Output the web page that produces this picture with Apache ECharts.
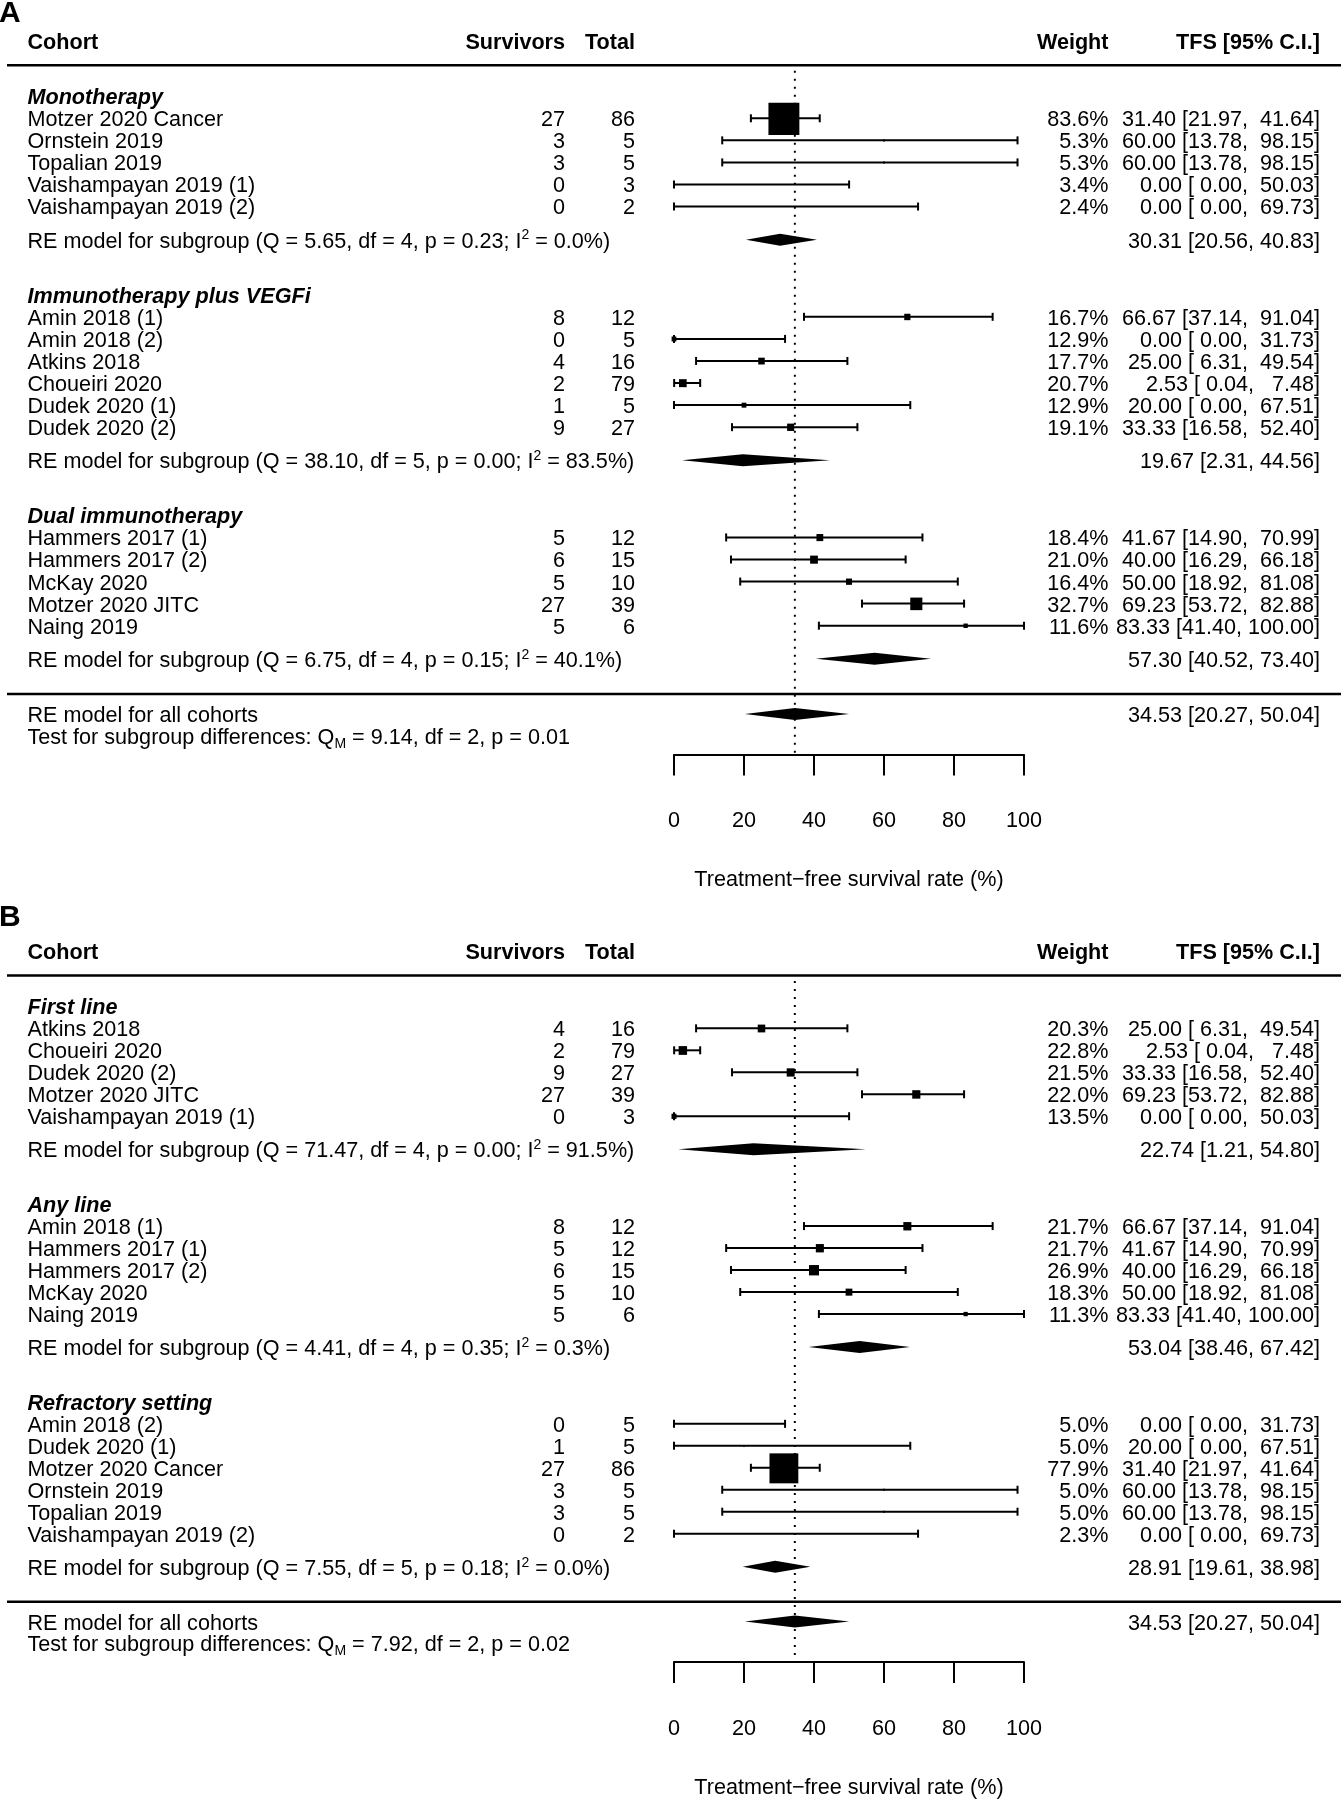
<!DOCTYPE html>
<html><head><meta charset="utf-8">
<script src="https://cdn.jsdelivr.net/npm/echarts@6/dist/echarts.min.js"></script>
<style>html,body{margin:0;padding:0;background:#fff}#main{width:1341px;height:1800px}</style>
</head><body><div id="main"></div>
<script>
// ---------------- Panel A data ----------------
const groupsA = ['Monotherapy', 'Immunotherapy plus VEGFi', 'Dual immunotherapy'];
const groupSizesA = [5, 6, 5];
const cohortsA = ['Motzer 2020 Cancer', 'Ornstein 2019', 'Topalian 2019', 'Vaishampayan 2019 (1)', 'Vaishampayan 2019 (2)',
  'Amin 2018 (1)', 'Amin 2018 (2)', 'Atkins 2018', 'Choueiri 2020', 'Dudek 2020 (1)', 'Dudek 2020 (2)',
  'Hammers 2017 (1)', 'Hammers 2017 (2)', 'McKay 2020', 'Motzer 2020 JITC', 'Naing 2019'];
const survivorsA = [27, 3, 3, 0, 0, 8, 0, 4, 2, 1, 9, 5, 6, 5, 27, 5];
const totalsA = [86, 5, 5, 3, 2, 12, 5, 16, 79, 5, 27, 12, 15, 10, 39, 6];
const weightsA = [83.6, 5.3, 5.3, 3.4, 2.4, 16.7, 12.9, 17.7, 20.7, 12.9, 19.1, 18.4, 21.0, 16.4, 32.7, 11.6];
const tfsA = [31.40, 60.00, 60.00, 0.00, 0.00, 66.67, 0.00, 25.00, 2.53, 20.00, 33.33, 41.67, 40.00, 50.00, 69.23, 83.33];
const lowerA = [21.97, 13.78, 13.78, 0.00, 0.00, 37.14, 0.00, 6.31, 0.04, 0.00, 16.58, 14.90, 16.29, 18.92, 53.72, 41.40];
const upperA = [41.64, 98.15, 98.15, 50.03, 69.73, 91.04, 31.73, 49.54, 7.48, 67.51, 52.40, 70.99, 66.18, 81.08, 82.88, 100.00];
const subQA = [5.65, 38.10, 6.75];
const subDfA = [4, 5, 4];
const subPA = [0.23, 0.00, 0.15];
const subI2A = [0.0, 83.5, 40.1];
const subTfsA = [30.31, 19.67, 57.30];
const subLowerA = [20.56, 2.31, 40.52];
const subUpperA = [40.83, 44.56, 73.40];
const overallA = [34.53, 20.27, 50.04];
const testA = [9.14, 2, 0.01];

// ---------------- Panel B data ----------------
const groupsB = ['First line', 'Any line', 'Refractory setting'];
const groupSizesB = [5, 5, 6];
const cohortsB = ['Atkins 2018', 'Choueiri 2020', 'Dudek 2020 (2)', 'Motzer 2020 JITC', 'Vaishampayan 2019 (1)',
  'Amin 2018 (1)', 'Hammers 2017 (1)', 'Hammers 2017 (2)', 'McKay 2020', 'Naing 2019',
  'Amin 2018 (2)', 'Dudek 2020 (1)', 'Motzer 2020 Cancer', 'Ornstein 2019', 'Topalian 2019', 'Vaishampayan 2019 (2)'];
const survivorsB = [4, 2, 9, 27, 0, 8, 5, 6, 5, 5, 0, 1, 27, 3, 3, 0];
const totalsB = [16, 79, 27, 39, 3, 12, 12, 15, 10, 6, 5, 5, 86, 5, 5, 2];
const weightsB = [20.3, 22.8, 21.5, 22.0, 13.5, 21.7, 21.7, 26.9, 18.3, 11.3, 5.0, 5.0, 77.9, 5.0, 5.0, 2.3];
const tfsB = [25.00, 2.53, 33.33, 69.23, 0.00, 66.67, 41.67, 40.00, 50.00, 83.33, 0.00, 20.00, 31.40, 60.00, 60.00, 0.00];
const lowerB = [6.31, 0.04, 16.58, 53.72, 0.00, 37.14, 14.90, 16.29, 18.92, 41.40, 0.00, 0.00, 21.97, 13.78, 13.78, 0.00];
const upperB = [49.54, 7.48, 52.40, 82.88, 50.03, 91.04, 70.99, 66.18, 81.08, 100.00, 31.73, 67.51, 41.64, 98.15, 98.15, 69.73];
const subQB = [71.47, 4.41, 7.55];
const subDfB = [4, 4, 5];
const subPB = [0.00, 0.35, 0.18];
const subI2B = [91.5, 0.3, 0.0];
const subTfsB = [22.74, 53.04, 28.91];
const subLowerB = [1.21, 38.46, 19.61];
const subUpperB = [54.80, 67.42, 38.98];
const overallB = [34.53, 20.27, 50.04];
const testB = [7.92, 2, 0.02];

// ---------------- shared labels ----------------
const headers = ['Cohort', 'Survivors', 'Total', 'Weight', 'TFS [95% C.I.]'];
const xTicks = [0, 20, 40, 60, 80, 100];
const xTitle = 'Treatment\u2212free survival rate (%)';
const panelLetters = ['A', 'B'];

// ---------------- layout / style ----------------
const FS = 21.6;
const FF = '"Liberation Sans", Arial, Helvetica, sans-serif';
const COL = { cohort: 27.5, surv: 565, total: 635, weight: 1108.5, tfs: 1320 };
const ROW_MIN = -4, ROW_MAX = 28.84, UNIT = 22.06;
const GRID_LEFT = 674, GRID_W = 350;
const ROW0 = [118.3, 1028.7];
const TEXT_DY = 2;
const RICH = {
  sup: { fontSize: 14, fontFamily: FF, fill: '#000', verticalAlign: 'top', lineHeight: 14 },
  sub: { fontSize: 14, fontFamily: FF, fill: '#000', verticalAlign: 'bottom', lineHeight: 14 }
};

function layoutRows(sizes) {
  const studyRows = [], headRows = [], subRows = [];
  let r = -1;
  sizes.forEach(n => {
    headRows.push(r);
    for (let i = 0; i < n; i++) studyRows.push(r + 1 + i);
    const last = r + n;
    subRows.push(last + 1.5);
    r = last + 4;
  });
  return { studyRows, headRows, subRows };
}
function pad(v, w) { let s = v.toFixed(2); while (s.length < w) s = ' ' + s; return s; }
function maxLen(arr) { return Math.max.apply(null, arr.map(v => v.toFixed(2).length)); }

function textRenderer(items) {
  return function (params, api) {
    const it = items[params.dataIndex];
    const y = api.coord([0, it.row])[1];
    return {
      type: 'group',
      children: it.cells.map(c => ({
        type: 'text', silent: true,
        style: {
          legacy: false,
          text: c.text, x: c.x, y: y + TEXT_DY, fill: '#000',
          fontSize: FS, fontFamily: FF,
          fontWeight: c.bold ? 'bold' : 'normal',
          fontStyle: c.italic ? 'italic' : 'normal',
          align: c.align, verticalAlign: 'middle',
          lineHeight: c.rich ? 26 : FS + 2,
          rich: c.rich ? RICH : undefined
        }
      }))
    };
  };
}

function studyRender(params, api) {
  const est = api.value(0), row = api.value(1), lo = api.value(2), hi = api.value(3), w = api.value(4);
  const pE = api.coord([est, row]), pL = api.coord([lo, row]), pH = api.coord([hi, row]);
  const y = pE[1], s = Math.max(1.5, w * 0.37), cap = 4;
  const st = { stroke: '#000', lineWidth: 2 };
  return {
    type: 'group', children: [
      { type: 'line', shape: { x1: pL[0], y1: y, x2: pH[0], y2: y }, style: st },
      { type: 'line', shape: { x1: pL[0], y1: y - cap, x2: pL[0], y2: y + cap }, style: st },
      { type: 'line', shape: { x1: pH[0], y1: y - cap, x2: pH[0], y2: y + cap }, style: st },
      { type: 'rect', shape: { x: pE[0] - s / 2, y: y - s / 2, width: s, height: s * 1.04 }, style: { fill: '#000' } }
    ]
  };
}
function diamondRender(params, api) {
  const est = api.value(0), row = api.value(1), lo = api.value(2), hi = api.value(3);
  const pE = api.coord([est, row]), pL = api.coord([lo, row]), pH = api.coord([hi, row]);
  const y = pE[1], h = 6;
  return { type: 'polygon', shape: { points: [[pL[0], y], [pE[0], y - h], [pH[0], y], [pE[0], y + h]] }, style: { fill: '#000' } };
}
function ruleRender(params, api) {
  const y = api.coord([0, api.value(1)])[1];
  return { type: 'line', shape: { x1: 7, y1: y, x2: api.getWidth(), y2: y }, style: { stroke: '#000', lineWidth: 2.5 } };
}

function buildPanel(P, gi) {
  const L = layoutRows(P.sizes);
  const wE = maxLen(P.tfs), wL = maxLen(P.lower), wH = maxLen(P.upper);
  const items = [];
  items.push({ row: -3.5, cells: [
    { text: headers[0], x: COL.cohort, align: 'left', bold: true },
    { text: headers[1], x: COL.surv, align: 'right', bold: true },
    { text: headers[2], x: COL.total, align: 'right', bold: true },
    { text: headers[3], x: COL.weight, align: 'right', bold: true },
    { text: headers[4], x: COL.tfs, align: 'right', bold: true }
  ] });
  P.groups.forEach((g, k) => items.push({ row: L.headRows[k], cells: [{ text: g, x: COL.cohort, align: 'left', bold: true, italic: true }] }));
  P.cohorts.forEach((c, i) => items.push({ row: L.studyRows[i], cells: [
    { text: c, x: COL.cohort, align: 'left' },
    { text: String(P.surv[i]), x: COL.surv, align: 'right' },
    { text: String(P.total[i]), x: COL.total, align: 'right' },
    { text: P.weights[i].toFixed(1) + '%', x: COL.weight, align: 'right' },
    { text: pad(P.tfs[i], wE) + ' [' + pad(P.lower[i], wL) + ', ' + pad(P.upper[i], wH) + ']', x: COL.tfs, align: 'right' }
  ] }));
  P.groups.forEach((g, k) => items.push({ row: L.subRows[k], cells: [
    { text: 'RE model for subgroup (Q = ' + P.subQ[k].toFixed(2) + ', df = ' + P.subDf[k] + ', p = ' + P.subP[k].toFixed(2) +
        '; I{sup|2} = ' + P.subI2[k].toFixed(1) + '%)', x: COL.cohort, align: 'left', rich: true },
    { text: P.subTfs[k].toFixed(2) + ' [' + P.subLower[k].toFixed(2) + ', ' + P.subUpper[k].toFixed(2) + ']', x: COL.tfs, align: 'right' }
  ] }));
  items.push({ row: 27, cells: [
    { text: 'RE model for all cohorts', x: COL.cohort, align: 'left' },
    { text: P.overall[0].toFixed(2) + ' [' + P.overall[1].toFixed(2) + ', ' + P.overall[2].toFixed(2) + ']', x: COL.tfs, align: 'right' }
  ] });
  items.push({ row: 28, cells: [
    { text: 'Test for subgroup differences: Q{sub|M} = ' + P.test[0].toFixed(2) + ', df = ' + P.test[1] + ', p = ' + P.test[2].toFixed(2),
      x: COL.cohort, align: 'left', rich: true }
  ] });

  const base = { coordinateSystem: 'cartesian2d', xAxisIndex: gi, yAxisIndex: gi, silent: true, animation: false };
  const series = [
    Object.assign({ type: 'custom', renderItem: ruleRender, data: [[0, -2.4], [0, 26.1]], encode: { x: 0, y: 1 }, clip: false }, base),
    Object.assign({ type: 'line', data: [[P.overall[0], -2.15], [P.overall[0], ROW_MAX]], symbol: 'none',
      lineStyle: { color: '#000', width: 2, type: [2, 6] }, z: 1 }, base),
    Object.assign({ type: 'custom', renderItem: studyRender, clip: false, z: 3,
      data: P.tfs.map((v, i) => [v, L.studyRows[i], P.lower[i], P.upper[i], P.weights[i]]), encode: { x: [0, 2, 3], y: 1 } }, base),
    Object.assign({ type: 'custom', renderItem: diamondRender, clip: false, z: 3,
      data: P.subTfs.map((v, k) => [v, L.subRows[k], P.subLower[k], P.subUpper[k]]).concat([[P.overall[0], 27, P.overall[1], P.overall[2]]]),
      encode: { x: [0, 2, 3], y: 1 } }, base),
    Object.assign({ type: 'custom', renderItem: textRenderer(items), clip: false, z: 4,
      data: items.map(it => [0, it.row]), encode: { x: 0, y: 1 } }, base)
  ];
  return series;
}

const panels = [
  { groups: groupsA, sizes: groupSizesA, cohorts: cohortsA, surv: survivorsA, total: totalsA, weights: weightsA,
    tfs: tfsA, lower: lowerA, upper: upperA, subQ: subQA, subDf: subDfA, subP: subPA, subI2: subI2A,
    subTfs: subTfsA, subLower: subLowerA, subUpper: subUpperA, overall: overallA, test: testA },
  { groups: groupsB, sizes: groupSizesB, cohorts: cohortsB, surv: survivorsB, total: totalsB, weights: weightsB,
    tfs: tfsB, lower: lowerB, upper: upperB, subQ: subQB, subDf: subDfB, subP: subPB, subI2: subI2B,
    subTfs: subTfsB, subLower: subLowerB, subUpper: subUpperB, overall: overallB, test: testB }
];

const grids = [], xAxes = [], yAxes = [];
let series = [];
panels.forEach((P, gi) => {
  grids.push({ left: GRID_LEFT, width: GRID_W, top: ROW0[gi] + ROW_MIN * UNIT, height: (ROW_MAX - ROW_MIN) * UNIT });
  xAxes.push({
    gridIndex: gi, type: 'value', min: xTicks[0], max: xTicks[xTicks.length - 1], interval: xTicks[1] - xTicks[0],
    axisLine: { show: true, onZero: false, lineStyle: { color: '#000', width: 2 } },
    axisTick: { show: true, length: 21, lineStyle: { color: '#000', width: 2 } },
    axisLabel: { margin: 56, color: '#000', fontSize: FS, fontFamily: FF },
    splitLine: { show: false },
    name: xTitle, nameLocation: 'middle', nameGap: 115,
    nameTextStyle: { color: '#000', fontSize: FS, fontFamily: FF }
  });
  yAxes.push({ gridIndex: gi, type: 'value', min: ROW_MIN, max: ROW_MAX, inverse: true, show: false });
  series = series.concat(buildPanel(P, gi));
});

const chart = echarts.init(document.getElementById('main'), null, { renderer: 'canvas' });
chart.setOption({
  backgroundColor: '#fff',
  animation: false,
  title: panelLetters.map((t, i) => ({
    text: t, left: -1, top: i === 0 ? -1 : 903, padding: 0,
    textStyle: { fontSize: 30, fontWeight: 'bold', fontFamily: FF, color: '#000' }
  })),
  grid: grids, xAxis: xAxes, yAxis: yAxes, series: series
});
</script></body></html>
